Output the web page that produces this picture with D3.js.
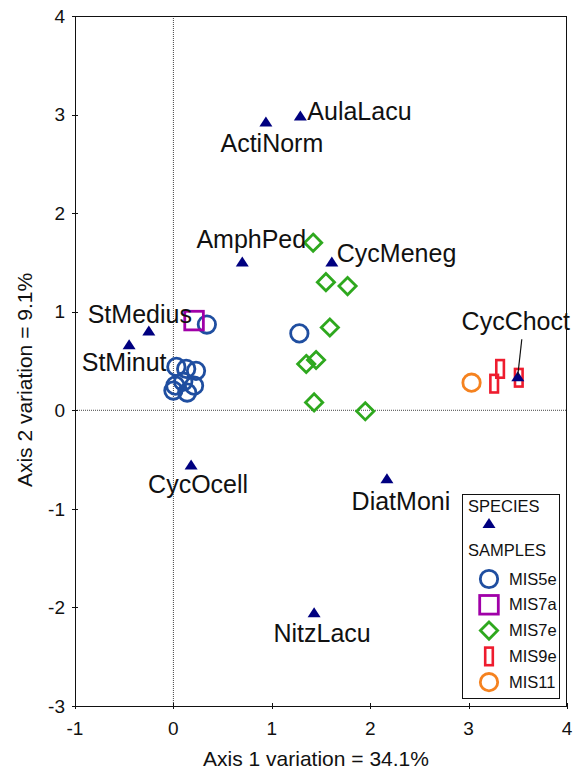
<!DOCTYPE html>
<html>
<head>
<meta charset="utf-8">
<script src="https://cdn.jsdelivr.net/npm/d3@7"></script>
<style>
  html, body { margin: 0; padding: 0; background: #fff; }
  svg { display: block; font-family: "Liberation Sans", Arial, sans-serif; }
</style>
</head>
<body>
<svg id="chart" width="581" height="770"></svg>
<script>
// ---------- DATA ----------
const speciesNames = ["AulaLacu", "ActiNorm", "AmphPed", "CycMeneg", "StMedius", "StMinut", "CycOcell", "DiatMoni", "NitzLacu", "CycChoct"];
const speciesX     = [1.29, 0.94, 0.70, 1.61, -0.25, -0.45, 0.18, 2.17, 1.43, 3.50];
const speciesY     = [2.98, 2.92, 1.50, 1.50, 0.80, 0.66, -0.56, -0.70, -2.06, 0.335];

const mis5eX = [0.34, 1.28, 0.03, 0.13, 0.23, 0.02, 0.10, 0.21, 0.00, 0.14];
const mis5eY = [0.87, 0.78, 0.44, 0.42, 0.40, 0.25, 0.29, 0.25, 0.20, 0.18];
const mis7aX = [0.21];
const mis7aY = [0.91];
const mis7eX = [1.42, 1.55, 1.77, 1.59, 1.35, 1.45, 1.43, 1.95];
const mis7eY = [1.70, 1.30, 1.26, 0.84, 0.47, 0.51, 0.08, -0.01];
const mis9eX = [3.32, 3.26, 3.51];
const mis9eY = [0.42, 0.27, 0.33];
const mis11X = [3.03];
const mis11Y = [0.28];

const xTicks = [-1, 0, 1, 2, 3, 4];
const yTicks = [-3, -2, -1, 0, 1, 2, 3, 4];
const xTitle = "Axis 1 variation = 34.1%";
const yTitle = "Axis 2 variation = 9.1%";
const sampleGroups = ["MIS5e", "MIS7a", "MIS7e", "MIS9e", "MIS11"];

// ---------- LAYOUT / STYLE ----------
const labelPlacement = {
  AulaLacu: {dx: 7,  dy: 3,   anchor: "start"},
  ActiNorm: {dx: 6,  dy: 30,  anchor: "middle"},
  AmphPed:  {dx: 9,  dy: -14, anchor: "middle"},
  CycMeneg: {dx: 5,  dy: 0,   anchor: "start"},
  StMedius: {dx: -9, dy: -8,  anchor: "middle"},
  StMinut:  {dx: -5, dy: 26,  anchor: "middle"},
  CycOcell: {dx: 7,  dy: 28,  anchor: "middle"},
  DiatMoni: {dx: 14, dy: 31,  anchor: "middle"},
  NitzLacu: {dx: 8,  dy: 29,  anchor: "middle"},
  CycChoct: {dx: -2, dy: -47, anchor: "middle"}
};
const colors = {
  species: "#000080",
  MIS5e: "#1F4EA0",
  MIS7a: "#A000A8",
  MIS7e: "#2EA81E",
  MIS9e: "#EE1C2E",
  MIS11: "#F5821F"
};

const svg = d3.select("#chart");
const pLeft = 75, pRight = 567, pTop = 16, pBottom = 706;
const x = d3.scaleLinear().domain([-1, 4]).range([pLeft, pRight]);
const y = d3.scaleLinear().domain([-3, 4]).range([pBottom, pTop]);

svg.append("rect").attr("width", 581).attr("height", 770).attr("fill", "#fff");

// zero lines (dotted)
svg.append("line").attr("x1", x(0)).attr("x2", x(0)).attr("y1", pTop).attr("y2", pBottom)
  .attr("stroke", "#444").attr("stroke-width", 1).attr("stroke-dasharray", "1,1");
svg.append("line").attr("x1", pLeft).attr("x2", pRight).attr("y1", y(0)).attr("y2", y(0))
  .attr("stroke", "#444").attr("stroke-width", 1).attr("stroke-dasharray", "1,1");

// frame
svg.append("rect").attr("x", pLeft + 0.5).attr("y", pTop + 0.5)
  .attr("width", pRight - pLeft - 1).attr("height", pBottom - pTop)
  .attr("fill", "none").attr("stroke", "#111").attr("stroke-width", 1);

// x axis ticks & labels
const xa = svg.append("g");
xTicks.forEach(t => {
  xa.append("line").attr("x1", Math.round(x(t)) + 0.5).attr("x2", Math.round(x(t)) + 0.5)
    .attr("y1", pBottom - 3).attr("y2", pBottom + 3).attr("stroke", "#111");
  xa.append("text").attr("x", x(t)).attr("y", 735).attr("text-anchor", "middle")
    .attr("font-size", 19).attr("fill", "#111").text(t);
});
// y axis ticks & labels
const ya = svg.append("g");
yTicks.forEach(t => {
  ya.append("line").attr("x1", pLeft - 3).attr("x2", pLeft + 3)
    .attr("y1", Math.round(y(t)) + 0.5).attr("y2", Math.round(y(t)) + 0.5).attr("stroke", "#111");
  ya.append("text").attr("x", 65).attr("y", y(t)).attr("dy", "0.35em").attr("text-anchor", "end")
    .attr("font-size", 19).attr("fill", "#111").text(t);
});

// axis titles
svg.append("text").attr("x", 316).attr("y", 766).attr("text-anchor", "middle")
  .attr("font-size", 21).attr("fill", "#111").text(xTitle);
svg.append("text").attr("transform", "translate(32,380) rotate(-90)").attr("text-anchor", "middle")
  .attr("font-size", 21).attr("fill", "#111").text(yTitle);

// ---------- symbol helpers ----------
const triPath = "M0,-6L6.5,4L-6.5,4Z";
function drawSymbol(g, type, cx, cy) {
  const sw = 2.8;
  if (type === "species") {
    g.append("path").attr("d", triPath).attr("transform", `translate(${cx},${cy})`)
      .attr("fill", colors.species);
  } else if (type === "MIS5e" || type === "MIS11") {
    g.append("circle").attr("cx", cx).attr("cy", cy).attr("r", 8.7)
      .attr("fill", "none").attr("stroke", colors[type]).attr("stroke-width", sw);
  } else if (type === "MIS7a") {
    g.append("rect").attr("x", cx - 9.3).attr("y", cy - 9.3).attr("width", 18.6).attr("height", 18.6)
      .attr("fill", "none").attr("stroke", colors[type]).attr("stroke-width", sw);
  } else if (type === "MIS7e") {
    const s = 8.6;
    g.append("path").attr("d", `M0,${-s}L${s},0L0,${s}L${-s},0Z`).attr("transform", `translate(${cx},${cy})`)
      .attr("fill", "none").attr("stroke", colors[type]).attr("stroke-width", sw);
  } else if (type === "MIS9e") {
    g.append("rect").attr("x", cx - 3.8).attr("y", cy - 8.8).attr("width", 7.6).attr("height", 17.6)
      .attr("fill", "none").attr("stroke", colors[type]).attr("stroke-width", 2.6);
  }
}

// ---------- marks ----------
const marks = svg.append("g");
const sampleData = [
  ["MIS5e", mis5eX, mis5eY],
  ["MIS7a", mis7aX, mis7aY],
  ["MIS7e", mis7eX, mis7eY],
  ["MIS11", mis11X, mis11Y],
  ["MIS9e", mis9eX, mis9eY]
];
sampleData.forEach(([name, xs, ys]) => {
  xs.forEach((v, i) => drawSymbol(marks, name, x(v), y(ys[i])));
});

// species triangles and labels
const lab = svg.append("g");
speciesNames.forEach((n, i) => {
  const cx = x(speciesX[i]), cy = y(speciesY[i]);
  drawSymbol(marks, "species", cx, cy);
  const p = labelPlacement[n];
  lab.append("text").attr("x", cx + p.dx).attr("y", cy + p.dy).attr("text-anchor", p.anchor)
    .attr("font-size", 25).attr("fill", "#111").text(n);
  if (n === "CycChoct") {
    lab.append("line").attr("x1", cx + 4).attr("y1", cy - 38).attr("x2", cx).attr("y2", cy - 2)
      .attr("stroke", "#111").attr("stroke-width", 1.2);
  }
});

// ---------- legend ----------
const lg = svg.append("g");
lg.append("rect").attr("x", 462.5).attr("y", 494.5).attr("width", 97).attr("height", 204)
  .attr("fill", "#fff").attr("stroke", "#111").attr("stroke-width", 1);
lg.append("text").attr("x", 468).attr("y", 512).attr("font-size", 16.5).attr("fill", "#111").text("SPECIES");
drawSymbol(lg, "species", 489, 524);
lg.append("text").attr("x", 468).attr("y", 556).attr("font-size", 16.5).attr("fill", "#111").text("SAMPLES");
sampleGroups.forEach((g, i) => {
  const cy = 579 + i * 25.8;
  drawSymbol(lg, g, 489, cy);
  lg.append("text").attr("x", 509).attr("y", cy + 5.5).attr("font-size", 16.5).attr("fill", "#111").text(g);
});
</script>
</body>
</html>
